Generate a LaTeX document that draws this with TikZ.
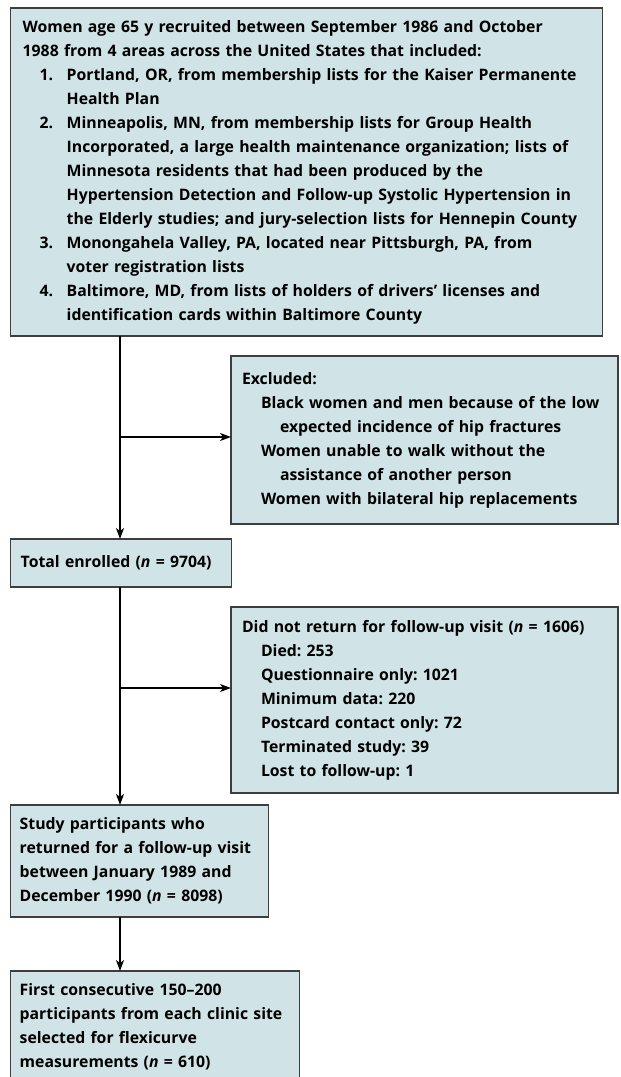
\documentclass[tikz,border=0pt]{standalone}
\usepackage{fontspec}
\IfFontExistsTF{Open Sans SemiBold}
  {\setmainfont{Open Sans SemiBold}[ItalicFont={Open Sans SemiBold Italic}]}
  {\setmainfont{Open Sans}[UprightFont={* Bold},ItalicFont={* Bold Italic}]}
\usetikzlibrary{arrows.meta,positioning}
\definecolor{boxfill}{RGB}{208,227,230}
\definecolor{boxline}{RGB}{62,62,62}

\newcommand{\numitem}[1]{\hspace*{17pt}\makebox[27pt][l]{#1}}
\newcommand{\numcont}{\hspace*{44pt}}
\frenchspacing

\begin{document}
\begin{tikzpicture}[x=1pt,y=-1pt,
  flowbox/.style={draw=boxline, fill=boxfill, line width=1.4pt,
    anchor=north west, align=left, inner ysep=0pt, outer sep=0pt,
    font=\fontsize{15.8}{24}\selectfont},
  arr/.style={line width=1.2pt, -{Stealth[length=11pt,width=8pt,inset=3pt]}}
]
\useasboundingbox (0,0) rectangle (621,1077);

% boxes
\node[flowbox, text width=568pt, inner xsep=12pt, minimum height=328pt] (recruit) at (10.7,8)
{Women age 65 y recruited between September 1986 and October\\
1988 from 4 areas across the United States that included:\\
\numitem{1.}Portland, OR, from membership lists for the Kaiser Permanente\\
\numcont Health Plan\\
\numitem{2.}Minneapolis, MN, from membership lists for Group Health\\
\numcont Incorporated, a large health maintenance organization; lists of\\
\numcont Minnesota residents that had been produced by the\\
\numcont Hypertension Detection and Follow-up Systolic Hypertension in\\
\numcont the Elderly studies; and jury-selection lists for Hennepin County\\
\numitem{3.}Monongahela Valley, PA, located near Pittsburgh, PA, from\\
\numcont voter registration lists\\
\numitem{4.}Baltimore, MD, from lists of holders of drivers’ licenses and\\
\numcont identification cards within Baltimore County};

\node[flowbox, text width=365pt, inner xsep=11pt, minimum height=168pt] (excl) at (231,356)
{Excluded:\\
\hspace*{19pt}Black women and men because of the low\\
\hspace*{38pt}expected incidence of hip fractures\\
\hspace*{19pt}Women unable to walk without the\\
\hspace*{38pt}assistance of another person\\
\hspace*{19pt}Women with bilateral hip replacements};

\node[flowbox, text width=201pt, inner xsep=10pt, minimum height=48pt] (total) at (10.7,539)
{Total enrolled (\textit{n} = 9704)};

\node[flowbox, text width=365pt, inner xsep=11pt, minimum height=186pt] (lost) at (231,607)
{Did not return for follow-up visit (\textit{n} = 1606)\\
\hspace*{19pt}Died: 253\\
\hspace*{19pt}Questionnaire only: 1021\\
\hspace*{19pt}Minimum data: 220\\
\hspace*{19pt}Postcard contact only: 72\\
\hspace*{19pt}Terminated study: 39\\
\hspace*{19pt}Lost to follow-up: 1};

\node[flowbox, text width=240pt, inner xsep=9pt, minimum height=112pt] (study) at (10.7,805)
{Study participants who\\
returned for a follow-up visit\\
between January 1989 and\\
December 1990 (\textit{n} = 8098)};

\node[flowbox, text width=271pt, inner xsep=9pt, minimum height=112pt] (first) at (10.7,971)
{First consecutive 150–200\\
participants from each clinic site\\
selected for flexicurve\\
measurements (\textit{n} = 610)};

% connectors
\coordinate (trunk1) at (120,336);
\coordinate (split1) at (120,437);
\coordinate (split2) at (120,688);
\draw[arr] (trunk1) -- (trunk1 |- total.north);
\draw[arr] (split1) -- (split1 -| excl.west);
\draw[arr] (trunk1 |- total.south) -- (trunk1 |- study.north);
\draw[arr] (split2) -- (split2 -| lost.west);
\draw[arr] (trunk1 |- study.south) -- (trunk1 |- first.north);

\end{tikzpicture}
\end{document}
